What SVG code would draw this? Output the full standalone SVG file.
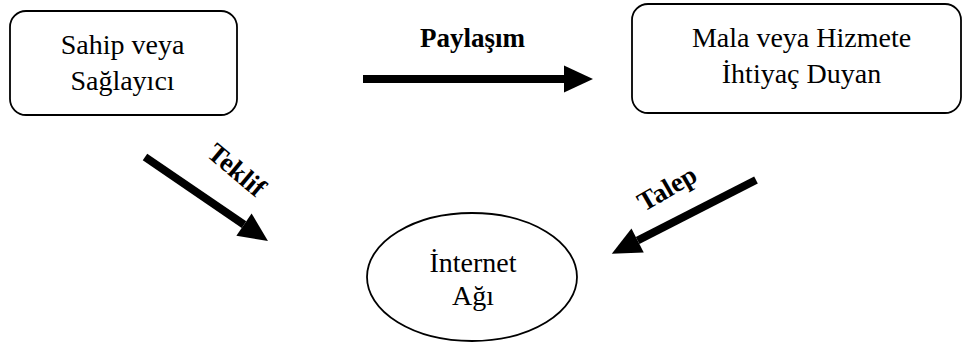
<svg xmlns="http://www.w3.org/2000/svg" width="963" height="347" viewBox="0 0 963 347">
  <style>
    .box { fill: #fff; stroke: #000; stroke-width: 1.8; }
    .lbl { font-family: "Liberation Serif", "Times New Roman", serif; font-size: 28px; fill: #000; text-anchor: middle; }
    .edge-lbl { font-family: "Liberation Serif", "Times New Roman", serif; font-size: 27px; font-weight: bold; fill: #000; text-anchor: middle; }
    .arrow { stroke: #000; stroke-width: 8; fill: none; marker-end: url(#head); }
  </style>
  <defs>
    <marker id="head" markerUnits="userSpaceOnUse" markerWidth="30" markerHeight="28" refX="0" refY="13.5" orient="auto" overflow="visible">
      <path d="M0,0 L29,13.5 L0,27 Z" fill="#000"/>
    </marker>
  </defs>
  <rect width="963" height="347" fill="#fff"/>

  <g id="provider">
    <rect class="box" x="10" y="11" width="227" height="104" rx="16" ry="16"/>
    <text class="lbl" x="122.5" y="54">Sahip veya</text>
    <text class="lbl" x="122.5" y="90">Sağlayıcı</text>
  </g>

  <g id="consumer">
    <rect class="box" x="632" y="4" width="329" height="109" rx="16" ry="16"/>
    <text class="lbl" x="801.5" y="47">Mala veya Hizmete</text>
    <text class="lbl" x="801.5" y="83">İhtiyaç Duyan</text>
  </g>

  <g id="network">
    <ellipse class="box" cx="472" cy="277" rx="105" ry="64"/>
    <text class="lbl" x="473" y="272">İnternet</text>
    <text class="lbl" x="473" y="305">Ağı</text>
  </g>

  <g id="connectors">
    <line class="arrow" x1="363" y1="79" x2="564" y2="79"/>
    <text class="edge-lbl" x="472.5" y="47">Paylaşım</text>

    <line class="arrow" x1="145" y1="157" x2="244" y2="224.6"/>
    <text class="edge-lbl" x="231" y="177" transform="rotate(40 231 177)">Teklif</text>

    <line class="arrow" x1="756" y1="180" x2="637.6" y2="240.5"/>
    <text class="edge-lbl" x="671.5" y="196" transform="rotate(-30 671.5 196)">Talep</text>
  </g>
</svg>
